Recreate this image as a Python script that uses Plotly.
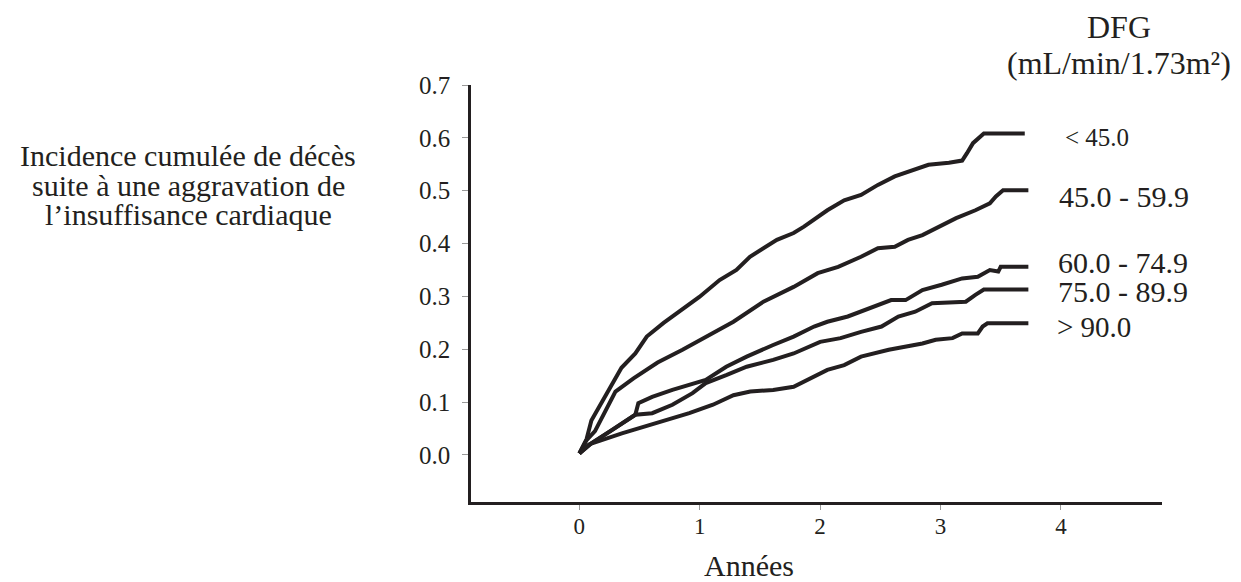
import plotly.graph_objects as go

# ---- data ----
series_names = ["< 45.0", "45.0 - 59.9", "60.0 - 74.9", "75.0 - 89.9", "> 90.0"]

x_lt45 = [0, 0.06, 0.10, 0.185, 0.28, 0.35, 0.465, 0.56, 0.70, 0.885, 0.997, 1.165, 1.305,
          1.417, 1.641, 1.78, 1.866, 2.06, 2.20, 2.34, 2.48, 2.62, 2.76, 2.90, 3.07, 3.18,
          3.22, 3.27, 3.36, 3.70]
y_lt45 = [0.003, 0.03, 0.065, 0.098, 0.135, 0.165, 0.192, 0.224, 0.250, 0.281, 0.299, 0.331,
          0.350, 0.375, 0.407, 0.420, 0.432, 0.463, 0.482, 0.492, 0.511, 0.527, 0.539, 0.549,
          0.553, 0.557, 0.571, 0.590, 0.608, 0.608]

x_45_60 = [0, 0.06, 0.13, 0.23, 0.30, 0.45, 0.65, 0.857, 1.05, 1.28, 1.529, 1.78, 1.98, 2.15,
           2.34, 2.48, 2.62, 2.73, 2.85, 2.99, 3.13, 3.29, 3.41, 3.46, 3.52, 3.73]
y_45_60 = [0.003, 0.028, 0.045, 0.091, 0.12, 0.145, 0.175, 0.199, 0.224, 0.252, 0.290, 0.318,
           0.344, 0.356, 0.375, 0.391, 0.394, 0.407, 0.416, 0.432, 0.448, 0.463, 0.476, 0.489,
           0.501, 0.501]

x_60_75 = [0, 0.10, 0.27, 0.465, 0.49, 0.605, 0.773, 0.913, 1.05, 1.22, 1.39, 1.61, 1.78, 1.95,
           2.06, 2.23, 2.40, 2.59, 2.71, 2.85, 3.01, 3.18, 3.31, 3.41, 3.48, 3.50, 3.73]
y_60_75 = [0.003, 0.022, 0.047, 0.076, 0.098, 0.110, 0.123, 0.132, 0.142, 0.167, 0.186, 0.208,
           0.224, 0.243, 0.252, 0.262, 0.277, 0.293, 0.293, 0.312, 0.322, 0.334, 0.337, 0.350,
           0.347, 0.356, 0.356]

x_75_90 = [0, 0.10, 0.27, 0.465, 0.605, 0.773, 0.94, 1.05, 1.22, 1.39, 1.61, 1.78, 2.00, 2.17,
           2.34, 2.51, 2.65, 2.79, 2.93, 3.10, 3.21, 3.29, 3.36, 3.73]
y_75_90 = [0.003, 0.022, 0.047, 0.076, 0.079, 0.095, 0.117, 0.136, 0.151, 0.167, 0.180, 0.192,
           0.214, 0.221, 0.233, 0.243, 0.262, 0.271, 0.287, 0.288, 0.290, 0.303, 0.313, 0.313]

x_gt90 = [0, 0.08, 0.353, 0.633, 0.913, 1.11, 1.28, 1.42, 1.61, 1.78, 1.89, 2.06, 2.20, 2.34,
          2.57, 2.71, 2.85, 2.96, 3.10, 3.18, 3.31, 3.35, 3.39, 3.73]
y_gt90 = [0.003, 0.02, 0.041, 0.060, 0.079, 0.095, 0.113, 0.120, 0.123, 0.129, 0.142, 0.161,
          0.170, 0.186, 0.199, 0.205, 0.211, 0.218, 0.221, 0.230, 0.230, 0.243, 0.249, 0.249]

x_ticks = [0, 1, 2, 3, 4]
y_ticks = [0.0, 0.1, 0.2, 0.3, 0.4, 0.5, 0.6, 0.7]
y_tick_labels = ["0.0", "0.1", "0.2", "0.3", "0.4", "0.5", "0.6", "0.7"]

y_title_lines = ["Incidence cumulée de décès", "suite à une aggravation de",
                 "l’insuffisance cardiaque"]
x_title = "Années"
legend_title_lines = ["DFG", "(mL/min/1.73m²)"]

# ---- figure ----
OFF = 8  # page body margin: figure is drawn 8px from the window's top-left
W, H = 1241 - OFF, 582 - OFF
L, R, T, B = 471 - OFF, 87 - OFF, 85 - OFF, 80
PW, PH = W - L - R, H - T - B
INK = "#231f20"
FONT = "Liberation Serif, Times New Roman, serif"


def px_x(px):
    return (px - OFF - L) / PW


def px_y(py):
    return (H - B - (py - OFF)) / PH


fig = go.Figure()
all_x = [x_lt45, x_45_60, x_60_75, x_75_90, x_gt90]
all_y = [y_lt45, y_45_60, y_60_75, y_75_90, y_gt90]
for name, xs, ys in zip(series_names, all_x, all_y):
    fig.add_trace(go.Scatter(x=xs, y=ys, mode="lines", name=name,
                             line=dict(color=INK, width=4, shape="linear"),
                             showlegend=False, hoverinfo="skip"))

annotations = []
for i, line in enumerate(y_title_lines):
    annotations.append(dict(text=line, x=px_x(188), y=px_y(155 + 30 * i), xref="paper",
                            yref="paper", xanchor="center", yanchor="middle",
                            showarrow=False, font=dict(size=30, color=INK, family=FONT)))
annotations.append(dict(text=x_title, x=px_x(749), y=px_y(565), xref="paper", yref="paper",
                        xanchor="center", yanchor="middle", showarrow=False,
                        font=dict(size=30, color=INK, family=FONT)))
for text, py in zip(legend_title_lines, [27, 63]):
    annotations.append(dict(text=text, x=px_x(1119), y=px_y(py), xref="paper", yref="paper",
                            xanchor="center", yanchor="middle", showarrow=False,
                            font=dict(size=32, color=INK, family=FONT)))
label_pos = [(1063, 137, 25), (1057, 196, 30), (1056, 262, 30), (1056, 291, 30), (1055, 327, 29)]
for name, (lx, ly, fs) in zip(series_names, label_pos):
    annotations.append(dict(text=name.replace("<", "&lt;").replace(">", "&gt;"),
                            x=px_x(lx), y=px_y(ly), xref="paper", yref="paper",
                            xanchor="left", yanchor="middle", showarrow=False,
                            font=dict(size=fs, color=INK, family=FONT)))

fig.update_layout(
    width=W, height=H, autosize=False,
    margin=dict(l=L, r=R, t=T, b=B, pad=0),
    paper_bgcolor="white", plot_bgcolor="white",
    font=dict(family=FONT, color=INK),
    annotations=annotations,
    xaxis=dict(range=[-0.9, 4.84], tickvals=x_ticks, showgrid=False, zeroline=False,
               showline=True, linecolor=INK, linewidth=2.7, ticks="outside", ticklen=5,
               tickwidth=1, tickcolor="#999999", tickfont=dict(size=23, color=INK),
               ticklabelstandoff=-3),
    yaxis=dict(range=[-0.089, 0.7], tickvals=y_ticks, ticktext=y_tick_labels,
               showgrid=False, zeroline=False, showline=True, linecolor=INK, linewidth=2.7,
               ticks="outside", ticklen=6, tickwidth=1, tickcolor="#999999",
               tickfont=dict(size=25, color=INK), ticklabelstandoff=7),
)

fig.write_html("out.html")
